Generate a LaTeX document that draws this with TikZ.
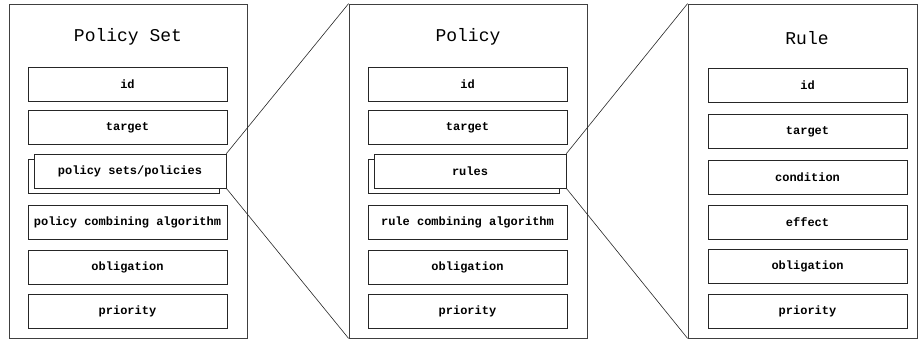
\documentclass[tikz,border=0pt]{standalone}
\usepackage{fontspec}
\setmonofont{Liberation Mono}
\usetikzlibrary{positioning}

\begin{document}
\begin{tikzpicture}[
    x=1pt, y=-1pt,
    panel/.style={draw=black!75, line width=0.8pt, minimum width=238pt, minimum height=334pt, inner sep=0pt},
    field/.style={draw=black!85, line width=0.7pt, fill=white, minimum width=199pt, minimum height=34pt, inner sep=0pt, font=\ttfamily\bfseries\fontsize{12}{14}\selectfont},
    title/.style={font=\ttfamily\fontsize{18}{20}\selectfont},
    zoomline/.style={draw=black!85, line width=0.6pt}
  ]
  \useasboundingbox (0,0) rectangle (919,339);

  % policy set
  \node [panel] (pset) at (128,171) {};
  \node [title] (pset-title) at (128,37) {Policy Set};
  \foreach \y/\n/\t in {84/id/id, 127.5/target/target, 222.5/alg/policy combining algorithm,
                        267/obl/obligation, 311/prio/priority}
    \node [field] (pset-\n) at (127.5,\y) {\t};
  \node [field, minimum width=191pt] (pset-back) at (123.5,176) {};
  \node [field, minimum width=192pt] (pset-items) at (130,171) {policy sets/policies};

  % policy
  \node [panel] (pol) at (468,171) {};
  \node [title] (pol-title) at (468,37) {Policy};
  \foreach \y/\n/\t in {84/id/id, 127.5/target/target, 222.5/alg/rule combining algorithm,
                        267/obl/obligation, 311/prio/priority}
    \node [field] (pol-\n) at (467.5,\y) {\t};
  \node [field, minimum width=191pt] (pol-back) at (463.5,176) {};
  \node [field, minimum width=192pt] (pol-items) at (470,171) {rules};

  % rule
  \node [panel, minimum width=229pt] (rule) at (802.5,171) {};
  \node [title] (rule-title) at (807,38) {Rule};
  \foreach \y/\n/\t in {85/id/id, 131.5/target/target, 177.5/cond/condition,
                        222.5/eff/effect, 266.5/obl/obligation, 311/prio/priority}
    \node [field] (rule-\n) at (807.5,\y) {\t};

  % zoom lines
  \draw [zoomline] (pset-items.north east) -- (pol.north west);
  \draw [zoomline] (pset-items.south east) -- (pol.south west);
  \draw [zoomline] (pol-items.north east) -- (rule.north west);
  \draw [zoomline] (pol-items.south east) -- (rule.south west);
\end{tikzpicture}
\end{document}
